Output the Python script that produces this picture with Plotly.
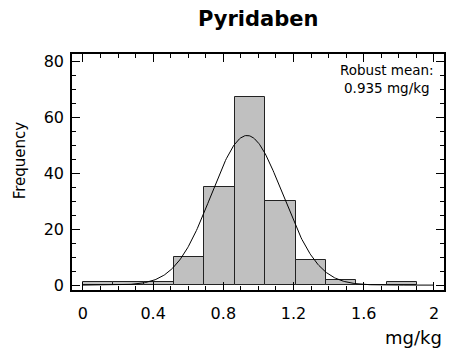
import numpy as np
import plotly.graph_objects as go

# Histogram data
bin_start = 0.0
bin_width = 0.1731
counts = [1, 1, 1, 10, 35, 67, 30, 9, 2, 0, 1]

# Normal fit parameters (robust mean etc.)
fit_mean = 0.935
fit_sigma = 0.203
fit_n = sum(counts)
curve_x_range = [0.0, 2.0]

centers = [bin_start + bin_width * (i + 0.5) for i in range(len(counts))]

xs = np.linspace(curve_x_range[0], curve_x_range[1], 400)
ys = fit_n * bin_width / (fit_sigma * np.sqrt(2 * np.pi)) * np.exp(-0.5 * ((xs - fit_mean) / fit_sigma) ** 2)

FONT = "DejaVu Sans"

fig = go.Figure()
fig.add_trace(go.Bar(
    x=centers, y=counts, width=bin_width,
    marker=dict(color="#c0c0c0", line=dict(color="#222222", width=1)),
    showlegend=False, hoverinfo="skip",
))
fig.add_trace(go.Scatter(
    x=xs, y=ys, mode="lines",
    line=dict(color="black", width=1),
    showlegend=False, hoverinfo="skip",
))

axis_common = dict(
    showline=True, linecolor="black", linewidth=1.5, mirror="ticks",
    ticks="inside", tickcolor="black", tickwidth=1, ticklen=8,
    showgrid=False, zeroline=False,
    tickfont=dict(family=FONT, size=16, color="black"),
)

fig.update_layout(
    width=451, height=354,
    margin=dict(l=72, r=5, t=54, b=64),
    plot_bgcolor="white", paper_bgcolor="white",
    bargap=0,
    xaxis=dict(range=[-0.062, 2.057], tickvals=[0, 0.4, 0.8, 1.2, 1.6, 2],
               ticktext=["0", "0.4", "0.8", "1.2", "1.6", "2"],
               minor=dict(ticks="inside", ticklen=4, dtick=0.1, tick0=0, tickcolor="black", showgrid=False),
               ticklabelstandoff=8, **axis_common),
    yaxis=dict(range=[-1.75, 82.5], tickvals=[0, 20, 40, 60, 80],
               minor=dict(ticks="inside", ticklen=4, dtick=5, tick0=0, tickcolor="black", showgrid=False),
               ticklabelstandoff=3, **axis_common),
    annotations=[
        dict(text="<b>Pyridaben</b>", xref="paper", yref="paper", x=0.5, y=1.148,
             xanchor="center", yanchor="middle", showarrow=False,
             font=dict(family=FONT, size=21, color="black")),
        dict(text="Frequency", xref="paper", yref="paper", x=-0.139, y=0.551,
             xanchor="center", yanchor="middle", textangle=-90, showarrow=False,
             font=dict(family=FONT, size=15, color="black")),
        dict(text="mg/kg", xref="paper", yref="paper", x=1.0, y=-0.203,
             xanchor="right", yanchor="middle", showarrow=False,
             font=dict(family=FONT, size=18, color="black")),
        dict(text="Robust mean:<br>0.935 mg/kg", xref="paper", yref="paper", x=0.848, y=0.975,
             xanchor="center", yanchor="top", align="center", showarrow=False,
             font=dict(family=FONT, size=13.5, color="black")),
    ],
)

fig.write_html("out.html")
